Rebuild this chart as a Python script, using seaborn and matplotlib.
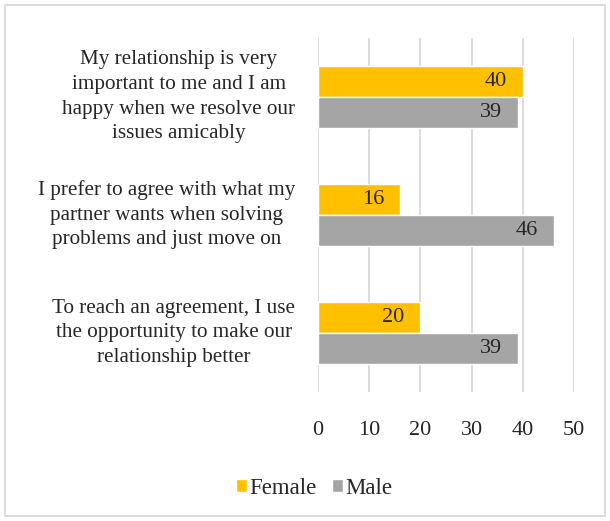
import numpy as np
import pandas as pd
import matplotlib
matplotlib.use('Agg')
import matplotlib.pyplot as plt
from matplotlib.patches import Rectangle
from matplotlib.transforms import ScaledTranslation
import seaborn as sns

sns.set_style("white")
plt.rcParams['font.family'] = ['Liberation Serif', 'DejaVu Serif']

# data
statements = [
    'My relationship is very\nimportant to me and I am\nhappy when we resolve our\nissues amicably',
    'I prefer to agree with what my\npartner wants when solving\nproblems and just move on',
    'To reach an agreement, I use\nthe opportunity to make our\nrelationship better',
]
female = [40, 16, 20]
male = [39, 46, 39]
genders = ['Female', 'Male']
colors = ['#FFC000', '#A5A5A5']

df = pd.DataFrame({
    'statement': statements * 2,
    'value': female + male,
    'gender': ['Female'] * 3 + ['Male'] * 3,
})

fig = plt.figure(figsize=(6.1, 5.21), dpi=100)
ax = fig.add_axes([318 / 610, 1 - 392 / 521, (574 - 318) / 610, (392 - 38) / 521])

sns.barplot(data=df, y='statement', x='value', hue='gender', hue_order=genders,
            palette=colors, orient='h', width=0.52, saturation=1, ax=ax, legend=True)

for c in ax.containers:
    texts = ax.bar_label(c, padding=-11.5, fontsize=16, color='#262626')
    for t in texts:
        t.set_ha('right')

ax.set_xlim(0, 50)
ax.set_ylim(2.5, -0.5)
ax.set_xticks([0, 10, 20, 30, 40, 50])
ax.xaxis.grid(True, color='#D9D9D9', linewidth=1.3)
ax.set_axisbelow(True)
ax.tick_params(axis='x', length=0, pad=21, labelsize=16, labelcolor='#262626')
ax.tick_params(axis='y', length=0, pad=16.5, labelsize=15.2, labelcolor='#262626')
shift = ScaledTranslation(0, 4 / 72, fig.dpi_scale_trans)
for lbl in ax.get_yticklabels():
    lbl.set_multialignment('center')
    lbl.set_linespacing(1.4)
    lbl.set_transform(lbl.get_transform() + shift)
ax.set_xlabel('')
ax.set_ylabel('')
for s in ax.spines.values():
    s.set_visible(False)

handles, labels = ax.get_legend_handles_labels()
ax.get_legend().remove()
fig.legend(handles, labels, loc='center', bbox_to_anchor=(0.515, 1 - 488 / 521), ncol=2,
           frameon=False, fontsize=16.5, handlelength=0.5, handleheight=0.5,
           handletextpad=0.1, columnspacing=0.65, labelcolor='#262626')

fig.patches.append(Rectangle((5 / 610, 5 / 521), 600 / 610, 511 / 521, transform=fig.transFigure,
                             fill=False, edgecolor='#D9D9D9', linewidth=1.3))

fig.savefig('out.png', dpi=100)
